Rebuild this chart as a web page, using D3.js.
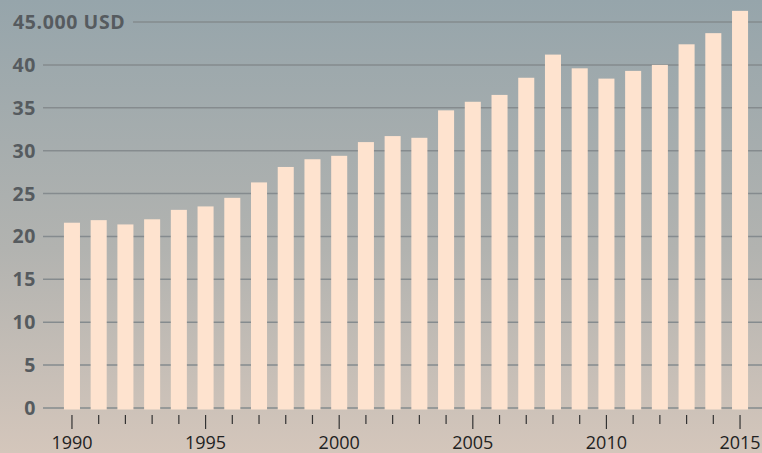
<!DOCTYPE html>
<html>
<head>
<meta charset="utf-8">
<script src="https://cdn.jsdelivr.net/npm/d3@7/dist/d3.min.js"></script>
<style>
    html, body { margin: 0; padding: 0; }
    body { width: 762px; height: 453px; overflow: hidden; }
    svg { display: block; font-family: "Open Sans", sans-serif; }
</style>
</head>
<body>
<div id="chart"></div>
<script>
(function () {
    "use strict";

    // years on the x axis
    const years = d3.range(1990, 2016);

    // GDP per capita, thousands of USD
    const values = [
        21.6, 21.9, 21.4, 22.0, 23.1, 23.5, 24.5, 26.3, 28.1, 29.0,
        29.4, 31.0, 31.7, 31.5, 34.7, 35.7, 36.5, 38.5, 41.2, 39.6,
        38.4, 39.3, 40.0, 42.4, 43.7, 46.3
    ];

    // y tick values and labels
    const yTicks = [0, 5, 10, 15, 20, 25, 30, 35, 40, 45];
    const yLabels = ["0", "5", "10", "15", "20", "25", "30", "35", "40", "45.000 USD"];

    // labelled years
    const xLabelYears = [1990, 1995, 2000, 2005, 2010, 2015];

    const width = 762;
    const height = 453;

    const svg = d3.select("#chart").append("svg").attr("width", width).attr("height", height);

    // background gradient
    const grad = svg.append("defs").append("linearGradient")
        .attr("id", "bg").attr("x1", 0).attr("y1", 0).attr("x2", 0).attr("y2", 1);
    grad.append("stop").attr("offset", "0%").attr("stop-color", "#96a5ab");
    grad.append("stop").attr("offset", "55%").attr("stop-color", "#b2b3b0");
    grad.append("stop").attr("offset", "100%").attr("stop-color", "#d4c6bb");
    svg.append("rect").attr("width", width).attr("height", height).attr("fill", "url(#bg)");

    const y = d3.scaleLinear().domain([0, 45]).range([408, 22]);
    const x = d3.scaleBand().domain(years).range([58.6, 753.4]).paddingInner(0.4).paddingOuter(0.2);

    // gridlines
    svg.append("g")
        .selectAll("line")
        .data(yTicks)
        .join("line")
        .attr("x1", (d) => (d === 45 ? 133 : 43))
        .attr("x2", width)
        .attr("y1", (d) => y(d))
        .attr("y2", (d) => y(d))
        .attr("stroke", "#858b8e")
        .attr("stroke-width", 1.5);

    // y labels
    svg.append("g")
        .selectAll("text")
        .data(yTicks)
        .join("text")
        .attr("x", (d) => (d === 45 ? 13 : 36))
        .attr("y", (d) => y(d) + 7)
        .attr("text-anchor", (d) => (d === 45 ? "start" : "end"))
        .attr("font-size", "19.5px")
        .attr("font-weight", "bold")
        .attr("letter-spacing", "0.6px")
        .attr("fill", "#565b5f")
        .text((d, i) => yLabels[i]);

    // bars
    svg.append("g")
        .selectAll("rect")
        .data(values)
        .join("rect")
        .attr("x", (d, i) => x(years[i]))
        .attr("width", x.bandwidth())
        .attr("y", (d) => y(d))
        .attr("height", (d) => y(0) + 1.5 - y(d))
        .attr("fill", "#fee3cf");

    // x ticks
    svg.append("g")
        .selectAll("line")
        .data(years)
        .join("line")
        .attr("x1", (d) => x(d) + x.bandwidth() / 2)
        .attr("x2", (d) => x(d) + x.bandwidth() / 2)
        .attr("y1", 415)
        .attr("y2", (d) => (d % 5 === 0 ? 429 : 424))
        .attr("stroke", "#333")
        .attr("stroke-width", 1.2);

    // x labels
    svg.append("g")
        .selectAll("text")
        .data(xLabelYears)
        .join("text")
        .attr("x", (d) => x(d) + x.bandwidth() / 2)
        .attr("y", 449)
        .attr("text-anchor", "middle")
        .attr("font-size", "18px")
        .attr("fill", "#222")
        .text((d) => d);
})();
</script>
</body>
</html>
